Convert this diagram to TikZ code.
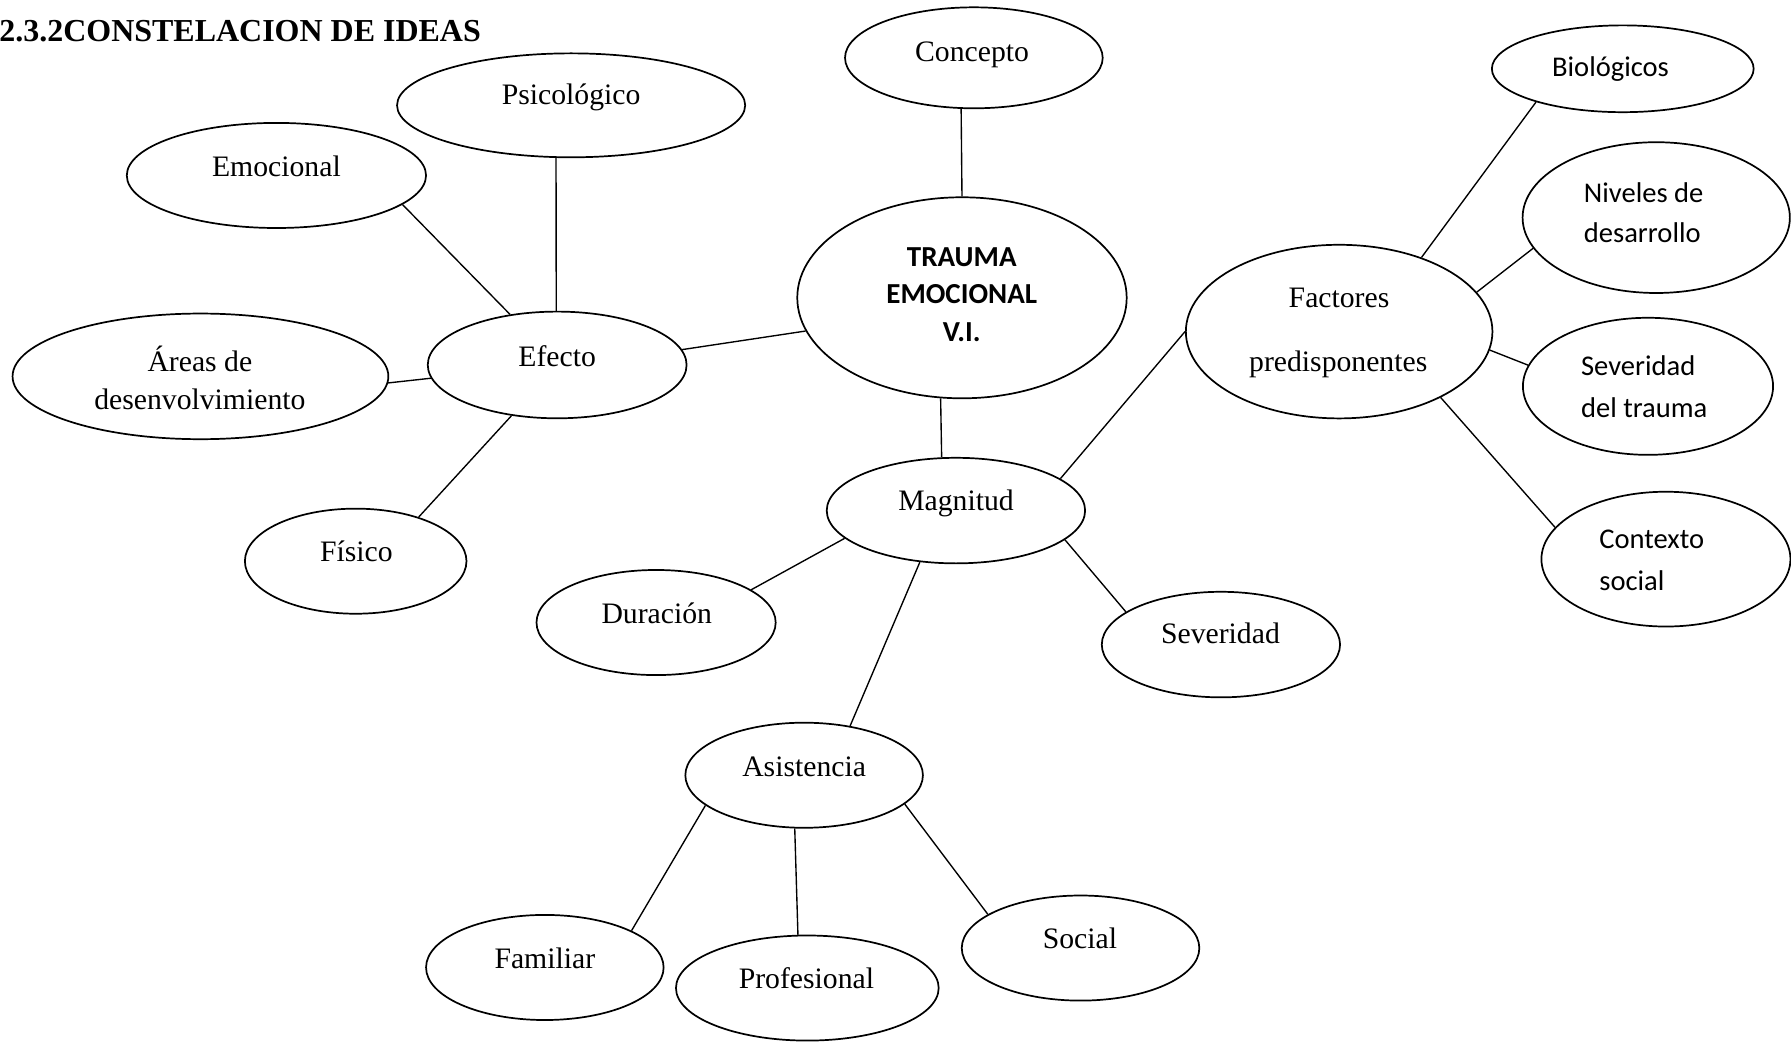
\documentclass[tikz,border=0pt]{standalone}
\usepackage{fontspec}
\setmainfont{Liberation Serif}
\newfontfamily\calib{Carlito}
\usetikzlibrary{shapes.geometric}

\tikzset{
  bubble/.style={draw, ellipse, line width=0.75pt, inner sep=0pt,
                 minimum width=#1},
  lbl/.style={anchor=base, inner sep=0pt, font=\fontsize{13}{16}\selectfont},
  clbl/.style={anchor=base west, inner sep=0pt, font=\calib\fontsize{12.5}{15}\selectfont},
  link/.style={line width=0.6pt},
}

\begin{document}
\begin{tikzpicture}[x=0.5pt, y=-0.5pt]
\useasboundingbox (0,0) rectangle (1568,912);

% heading
\node[anchor=base west, inner sep=0pt, font=\bfseries\fontsize{14}{17}\selectfont]
  (titulo) at (-1,36.5) {2.3.2CONSTELACION DE IDEAS};

% central idea
\node[bubble=144.2pt, minimum height=88pt] (trauma) at (842.2,260.7) {};
\node[anchor=base, inner sep=0pt, font=\calib\bfseries\fontsize{12.7}{15}\selectfont]
  (t-trauma1) at (842,233.5) {TRAUMA};
\node[anchor=base, inner sep=0pt, font=\calib\bfseries\fontsize{12.7}{15}\selectfont]
  (t-trauma2) at (842,265.6) {EMOCIONAL};
\node[anchor=base, inner sep=0pt, font=\calib\bfseries\fontsize{12.7}{15}\selectfont]
  (t-trauma3) at (842,298.6) {V.I.};

\node[bubble=112.8pt, minimum height=44.2pt] (concepto) at (852.6,50.6) {};
\node[lbl] (t-concepto) at (851,53.5) {Concepto};

% effect branch
\node[bubble=113.3pt, minimum height=46.7pt] (efecto) at (487.8,319.5) {};
\node[lbl] (t-efecto) at (487.8,320.8) {Efecto};

\node[bubble=152.4pt, minimum height=45.5pt] (psico) at (500,92.2) {};
\node[lbl] (t-psico) at (500,91.7) {Psicológico};

\node[bubble=131pt, minimum height=46pt] (emocional) at (242,153.6) {};
\node[lbl] (t-emocional) at (242,154.5) {Emocional};

\node[bubble=164.5pt, minimum height=55pt] (areas) at (175.5,329.5) {};
\node[lbl] (t-areas1) at (175,325) {Áreas de};
\node[lbl] (t-areas2) at (175,358.5) {desenvolvimiento};

\node[bubble=97pt, minimum height=46pt] (fisico) at (311.4,491.3) {};
\node[lbl] (t-fisico) at (312,491.5) {Físico};

% magnitude branch
\node[bubble=113.1pt, minimum height=46.2pt] (magnitud) at (836.9,447) {};
\node[lbl] (t-magnitud) at (837,446.5) {Magnitud};

\node[bubble=104.7pt, minimum height=46pt] (duracion) at (574.4,545) {};
\node[lbl] (t-duracion) at (575,545.5) {Duración};

\node[bubble=104.3pt, minimum height=46.2pt] (severidad) at (1068.9,564.3) {};
\node[lbl] (t-severidad) at (1068.5,563.5) {Severidad};

\node[bubble=104pt, minimum height=46pt] (asistencia) at (704,678.7) {};
\node[lbl] (t-asistencia) at (704,679.5) {Asistencia};

\node[bubble=104pt, minimum height=46pt] (familiar) at (477,847) {};
\node[lbl] (t-familiar) at (477,847.5) {Familiar};

\node[bubble=115pt, minimum height=46pt] (profesional) at (706.8,865) {};
\node[lbl] (t-profesional) at (706,865) {Profesional};

\node[bubble=104pt, minimum height=46pt] (social) at (946,830) {};
\node[lbl] (t-social) at (945.5,830) {Social};

% predisposing factors branch
\node[bubble=134.2pt, minimum height=76pt] (factores) at (1172.4,290.3) {};
\node[lbl] (t-factores1) at (1172.3,269.4) {Factores};
\node[lbl] (t-factores2) at (1171.6,324.8) {predisponentes};

\node[bubble=114.6pt, minimum height=38pt] (biologicos) at (1420.7,60.2) {};
\node[anchor=base, inner sep=0pt, font=\calib\fontsize{12.5}{15}\selectfont]
  (t-biologicos) at (1410,67) {Biológicos};

\node[bubble=117pt, minimum height=66pt] (niveles) at (1450,190.5) {};
\node[clbl] (t-niveles1) at (1386.3,177.7) {Niveles de};
\node[clbl] (t-niveles2) at (1386.3,212.4) {desarrollo};

\node[bubble=109.5pt, minimum height=60pt] (sevtrauma) at (1442.8,338.2) {};
\node[clbl] (t-sevtrauma1) at (1383.8,328.9) {Severidad};
\node[clbl] (t-sevtrauma2) at (1383.8,365.3) {del trauma};

\node[bubble=109pt, minimum height=59pt] (contexto) at (1458.5,489.5) {};
\node[clbl] (t-contexto1) at (1399.8,480.4) {Contexto};
\node[clbl] (t-contexto2) at (1399.8,517.2) {social};

% connectors
\draw[link] (concepto.256.5) -- (trauma.90);
\draw[link] (trauma.192) -- (efecto.7);
\draw[link] (trauma.258.3) -- (magnitud.105.8);

\draw[link] (efecto.91) -- (psico.254);
\draw[link] (efecto.133.5) -- (emocional.347.6);
\draw[link] (efecto.186.8) -- (areas.358.9);
\draw[link] (efecto.228.8) -- (fisico.35.3);

\draw[link] (magnitud.17.3) -- (factores.180);
\draw[link] (magnitud.194.7) -- (duracion.19.2);
\draw[link] (magnitud.345.3) -- (severidad.161);
\draw[link] (magnitud.235.7) -- (asistencia.47.7);

\draw[link] (asistencia.197.1) -- (familiar.23.2);
\draw[link] (asistencia.260.2) -- (profesional.100.7);
\draw[link] (asistencia.344) -- (social.160.7);

\draw[link] (factores.42.4) -- (biologicos.201.6);
\draw[link] (factores.16.7) -- (niveles.194.8);
\draw[link] (factores.353.1) -- (sevtrauma.170.5);
\draw[link] (factores.327.4) -- (contexto.164);
\end{tikzpicture}
\end{document}
